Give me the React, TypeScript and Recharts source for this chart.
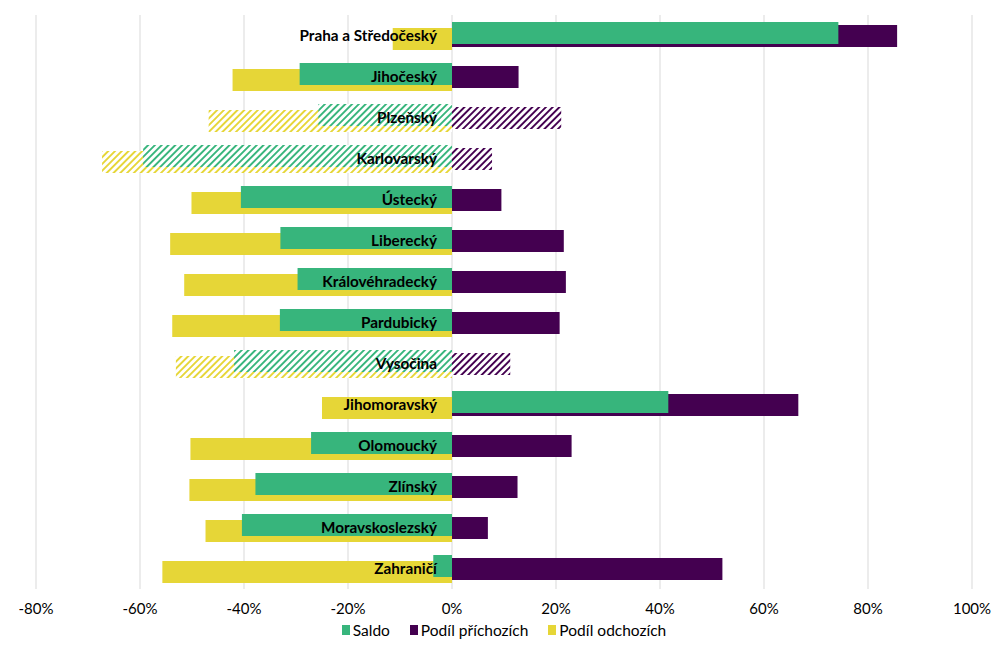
import { BarChart, Bar, XAxis, YAxis, CartesianGrid, Legend, Cell, LabelList } from 'recharts';

const categories = [
  'Praha a Středočeský',
  'Jihočeský',
  'Plzeňský',
  'Karlovarský',
  'Ústecký',
  'Liberecký',
  'Královéhradecký',
  'Pardubický',
  'Vysočina',
  'Jihomoravský',
  'Olomoucký',
  'Zlínský',
  'Moravskoslezský',
  'Zahraničí',
];

const saldo = [74.3, -29.3, -25.7, -59.4, -40.6, -33.0, -29.7, -33.1, -41.9, 41.6, -27.1, -37.8, -40.4, -3.6];
const prichozi = [85.6, 12.8, 21.0, 7.7, 9.5, 21.5, 21.9, 20.7, 11.2, 66.6, 23.0, 12.6, 6.9, 52.0];
const odchozi = [-11.4, -42.2, -46.8, -67.3, -50.1, -54.2, -51.5, -53.8, -53.1, -25.0, -50.3, -50.5, -47.4, -55.7];
// regions drawn with a hatched fill
const hatched = [false, false, true, true, false, false, false, false, true, false, false, false, false, false];

const xTicks = [-80, -60, -40, -20, 0, 20, 40, 60, 80, 100];

const GREEN = '#37b57c';
const PURPLE = '#440050';
const YELLOW = '#e6d637';
const FONT = 'Lato, "Open Sans", sans-serif';

const legendItems = [
  { label: 'Saldo', color: GREEN },
  { label: 'Podíl příchozích', color: PURPLE },
  { label: 'Podíl odchozích', color: YELLOW },
];

const data = categories.map((name, i) => ({
  name,
  saldo: saldo[i],
  prichozi: prichozi[i],
  odchozi: odchozi[i],
  hatched: hatched[i],
}));

function Hatch({ id, color }: { id: string; color: string }) {
  return (
    <pattern id={id} patternUnits="userSpaceOnUse" width={4.8} height={4.8} patternTransform="rotate(45)">
      <rect width={4.8} height={4.8} fill="#fff" />
      <rect width={1.9} height={4.8} fill={color} />
    </pattern>
  );
}

function renderName(props: any) {
  const { x, y, height, value } = props;
  return (
    <text
      x={x - 15}
      y={y + height / 2 - 1}
      textAnchor="end"
      dominantBaseline="central"
      fontFamily={FONT}
      fontWeight={700}
      fontSize={15.3}
      fill="#000"
    >
      {value}
    </text>
  );
}

function LegendContent() {
  return (
    <div style={{ display: 'flex', justifyContent: 'center', fontFamily: FONT, fontSize: 15.5, color: '#000' }}>
      {legendItems.map((it) => (
        <div key={it.label} style={{ display: 'flex', alignItems: 'center', margin: '0 10px' }}>
          <span style={{ width: 8, height: 10, background: it.color, marginRight: 3, display: 'inline-block' }} />
          <span>{it.label}</span>
        </div>
      ))}
    </div>
  );
}

export default function App() {
  return (
    <div style={{ position: 'absolute', left: 0, top: 0, width: 1006, height: 652, background: '#fff' }}>
      <BarChart
        width={1006}
        height={652}
        data={data}
        layout="vertical"
        margin={{ top: 15, right: 34, bottom: 7, left: 36 }}
        barSize={22}
        barGap={-19}
      >
        <defs>
          <Hatch id="hatchGreen" color={GREEN} />
          <Hatch id="hatchPurple" color={PURPLE} />
          <Hatch id="hatchYellow" color={YELLOW} />
        </defs>
        <CartesianGrid horizontal={false} stroke="#d9d9d9" />
        <XAxis
          type="number"
          domain={[-80, 100]}
          ticks={xTicks}
          interval={0}
          tickFormatter={(v) => `${v}%`}
          axisLine={false}
          tickLine={false}
          tickMargin={8}
          height={32}
          tick={{ fontSize: 15, fill: '#000', fontFamily: FONT }}
        />
        <YAxis yAxisId="main" type="category" dataKey="name" hide />
        <YAxis yAxisId="over" type="category" dataKey="name" hide />

        {/* bottom layer: slot for saldo kept empty, arrivals and departures */}
        <Bar yAxisId="main" dataKey="saldo" fill="transparent" legendType="none" isAnimationActive={false} />
        <Bar yAxisId="main" dataKey="prichozi" name="Podíl příchozích" isAnimationActive={false}>
          {data.map((d) => (
            <Cell key={d.name} fill={d.hatched ? 'url(#hatchPurple)' : PURPLE} />
          ))}
        </Bar>
        <Bar yAxisId="main" dataKey="odchozi" name="Podíl odchozích" isAnimationActive={false}>
          {data.map((d) => (
            <Cell key={d.name} fill={d.hatched ? 'url(#hatchYellow)' : YELLOW} />
          ))}
        </Bar>

        {/* top layer: saldo drawn over the others, category names on top */}
        <Bar yAxisId="over" dataKey="saldo" name="Saldo" isAnimationActive={false}>
          {data.map((d) => (
            <Cell key={d.name} fill={d.hatched ? 'url(#hatchGreen)' : GREEN} />
          ))}
        </Bar>
        <Bar yAxisId="over" dataKey="prichozi" fill="transparent" legendType="none" isAnimationActive={false}>
          <LabelList dataKey="name" content={renderName} />
        </Bar>
        <Bar yAxisId="over" dataKey="odchozi" fill="transparent" legendType="none" isAnimationActive={false} />

        <Legend verticalAlign="bottom" height={24} content={<LegendContent />} />
      </BarChart>
    </div>
  );
}
